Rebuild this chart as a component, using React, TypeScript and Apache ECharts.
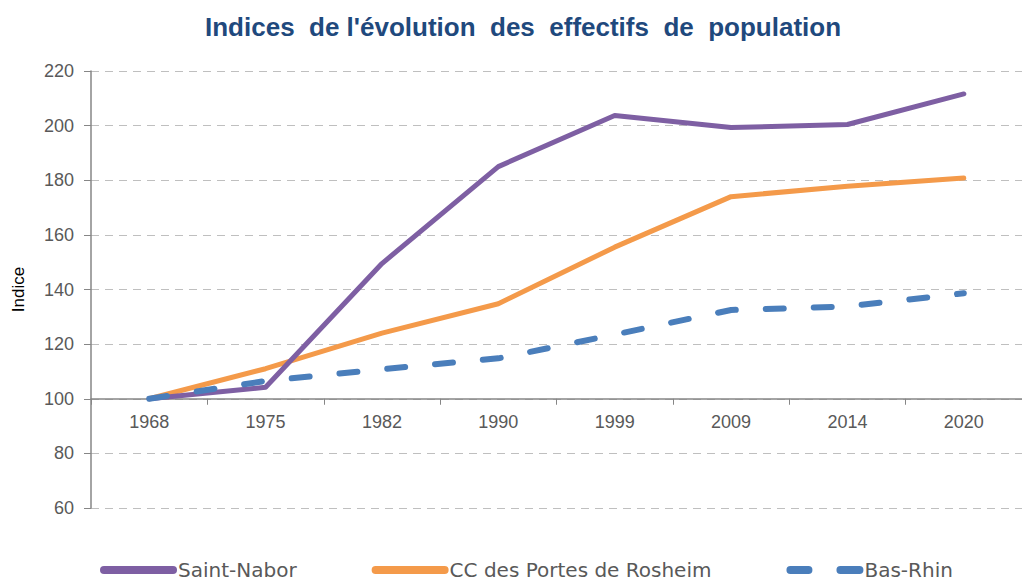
import React, { useEffect, useRef } from "react";
import * as echarts from "echarts";

const years = ["1968", "1975", "1982", "1990", "1999", "2009", "2014", "2020"];
const saintNabor = [100, 104.2, 149.5, 185, 203.7, 199.3, 200.4, 211.6];
const ccPortesRosheim = [100, 111, 124, 134.8, 155.5, 174, 177.8, 180.8];
const basRhin = [100, 106.5, 110.8, 114.8, 123.5, 132.5, 133.8, 138.6];

const yMin = 60;
const yMax = 220;
const yStep = 20;

const solidIcon = "path://M4,0H73A4,4 0 0 1 73,8H4A4,4 0 0 1 4,0Z";
const dashIcon =
  "path://M4,0H22A4,4 0 0 1 22,8H4A4,4 0 0 1 4,0Z M54,0H73A4,4 0 0 1 73,8H54A4,4 0 0 1 54,0Z";

export default function App() {
  const ref = useRef<HTMLDivElement>(null);
  useEffect(() => {
    if (!ref.current) return;
    const chart = echarts.init(ref.current, undefined, { renderer: "svg" });
    const gridTop = 71;
    const gridBottom = 74;
    const gridHeight = 582 - gridTop - gridBottom;
    const crossOffset = -((100 - yMin) / (yMax - yMin)) * gridHeight;
    const labelColor = "#595959";
    const sp = " \u00A0";
    chart.setOption({
      animation: false,
      backgroundColor: "#ffffff",
      title: {
        text: `Indices${sp}de l'évolution${sp}des${sp}effectifs${sp}de${sp}population`,
        left: 200,
        top: 9,
        textStyle: {
          color: "#1F497D",
          fontFamily: "Liberation Sans",
          fontWeight: "bold",
          fontSize: 26,
        },
      },
      grid: { left: 91, top: gridTop, bottom: gridBottom, width: 933 },
      legend: {
        bottom: -3,
        left: 95,
        itemWidth: 77,
        itemHeight: 8,
        itemGap: 75,
        textStyle: { color: labelColor, fontFamily: "DejaVu Sans", fontSize: 20, padding: [0, 0, 0, -4] },
        data: [
          { name: "Saint-Nabor", icon: solidIcon },
          { name: "CC des Portes de Rosheim", icon: solidIcon },
          { name: "Bas-Rhin", icon: dashIcon },
        ],
      },
      xAxis: {
        type: "category",
        data: years,
        boundaryGap: true,
        position: "bottom",
        offset: crossOffset,
        axisLine: { show: true, lineStyle: { color: "#868686", width: 1.5 } },
        axisTick: { show: true, length: 6, lineStyle: { color: "#868686" } },
        axisLabel: { color: labelColor, fontFamily: "Liberation Sans", fontSize: 18, margin: 14 },
        splitLine: { show: false },
      },
      yAxis: {
        type: "value",
        min: yMin,
        max: yMax,
        interval: yStep,
        name: "Indice",
        nameLocation: "middle",
        nameGap: 64,
        nameTextStyle: { color: "#000000", fontFamily: "Liberation Sans", fontSize: 17 },
        axisLine: { show: true, lineStyle: { color: "#868686", width: 1.5 } },
        axisTick: { show: true, length: 7, lineStyle: { color: "#868686" } },
        axisLabel: { color: labelColor, fontFamily: "Liberation Sans", fontSize: 18, margin: 17 },
        splitLine: { show: true, lineStyle: { color: "#BFBFBF", type: [8, 6], width: 1 } },
      },
      series: [
        {
          name: "Saint-Nabor",
          type: "line",
          data: saintNabor,
          symbol: "none",
          lineStyle: { color: "#7E5FA3", width: 5, cap: "round", join: "round" },
          itemStyle: { color: "#7E5FA3" },
          z: 3,
        },
        {
          name: "CC des Portes de Rosheim",
          type: "line",
          data: ccPortesRosheim,
          symbol: "none",
          lineStyle: { color: "#F49A4A", width: 5, cap: "round", join: "round" },
          itemStyle: { color: "#F49A4A" },
          z: 2,
        },
        {
          name: "Bas-Rhin",
          type: "line",
          data: basRhin,
          symbol: "none",
          lineStyle: { color: "#4A7EBB", width: 6, type: [18, 30], cap: "round", join: "round" },
          itemStyle: { color: "#4A7EBB" },
          z: 4,
        },
      ],
    });
    return () => chart.dispose();
  }, []);
  return (
    <div
      ref={ref}
      style={{ position: "absolute", left: 0, top: 0, width: 1022, height: 582 }}
    />
  );
}
